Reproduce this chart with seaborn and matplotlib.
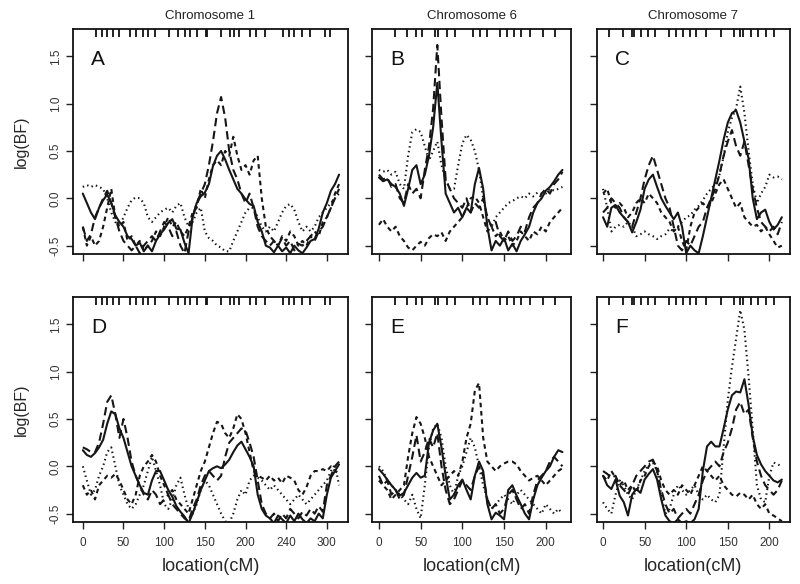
"""
Bayes factor profiles along chromosomes 1, 6 and 7 (two analyses, rows A-C / D-F).
"""
import numpy as np
import pandas as pd
import matplotlib
matplotlib.use('Agg')
import matplotlib.pyplot as plt
import seaborn as sns

sns.set_style("ticks")
plt.rcParams['font.family'] = ['Liberation Sans', 'DejaVu Sans']
plt.rcParams['axes.unicode_minus'] = False

# map positions (cM) of the evaluated grid
loc_chr1 = np.arange(0, 316, 5)
loc_chr6 = np.arange(0, 221, 5)
loc_chr7 = np.arange(0, 216, 5)

# marker positions (cM), drawn as ticks along the top edge
markers_chr1 = [16, 23, 30, 37, 45, 58, 66, 74, 80, 89, 106, 117, 126, 132, 140, 151, 153,
                170, 181, 186, 192, 206, 213, 224, 246, 253, 260, 270, 279, 298, 304]
markers_chr6 = [19, 34, 45, 52, 67, 71, 82, 91, 100, 113, 121, 129, 145, 153, 162, 170, 181, 197, 211]
markers_chr7 = [7, 24, 35, 37, 46, 54, 62, 79, 88, 96, 104, 112, 124, 142, 150, 158, 165, 168,
                178, 186, 196, 206]

xticks_chr1 = [0, 50, 100, 150, 200, 250, 300]
xlabels_chr1 = ['0', '50', '100', '150', '200', '240', '300']
xticks_chr67 = [0, 50, 100, 150, 200]
xlabels_chr67 = ['0', '50', '100', '150', '200']
yticks = [-0.5, 0.0, 0.5, 1.0, 1.5]
ylabels = ['-0.5', '0.0', '0.5', '1.0', '1.5']

# ---- panel A (chromosome 1, top) ----
a_solid = [0.05, -0.05, -0.15, -0.22, -0.1, -0.02, 0.04, -0.05, -0.18, -0.25,
           -0.3, -0.4, -0.43, -0.5, -0.47, -0.56, -0.5, -0.56, -0.45, -0.38,
           -0.33, -0.26, -0.22, -0.32, -0.33, -0.47, -0.58, -0.2, -0.05, 0.02,
           0.06, 0.15, 0.34, 0.45, 0.5, 0.41, 0.3, 0.2, 0.1, 0.05,
           -0.01, -0.06, -0.08, -0.25, -0.35, -0.5, -0.52, -0.57, -0.5, -0.56,
           -0.52, -0.58, -0.5, -0.55, -0.58, -0.52, -0.45, -0.43, -0.32, -0.15,
           -0.05, 0.08, 0.15, 0.25]
a_long = [-0.3, -0.45, -0.38, -0.2, -0.1, 0.0, 0.08, -0.05, -0.2, -0.35,
          -0.45, -0.5, -0.55, -0.5, -0.58, -0.5, -0.45, -0.4, -0.45, -0.35,
          -0.25, -0.3, -0.4, -0.35, -0.5, -0.58, -0.35, -0.2, -0.05, 0.05,
          0.15, 0.35, 0.6, 0.9, 1.07, 0.85, 0.5, 0.3, 0.2, 0.05,
          -0.05, 0.05, -0.1, -0.3, -0.4, -0.45, -0.5, -0.45, -0.5, -0.42,
          -0.5, -0.45, -0.55, -0.48, -0.5, -0.45, -0.4, -0.45, -0.35, -0.3,
          -0.2, -0.1, 0.0, 0.1]
a_short = [-0.3, -0.5, -0.4, -0.5, -0.45, -0.3, -0.1, 0.1, -0.2, -0.3,
           -0.25, -0.45, -0.4, -0.5, -0.45, -0.55, -0.5, -0.45, -0.35, -0.4,
           -0.3, -0.2, -0.3, -0.25, -0.35, -0.4, -0.3, -0.15, -0.1, 0.1,
           0.0, 0.2, 0.35, 0.4, 0.35, 0.5, 0.45, 0.65, 0.45, 0.3,
           0.35, 0.25, 0.4, 0.45, 0.0, -0.3, -0.4, -0.45, -0.5, -0.4,
           -0.45, -0.35, -0.4, -0.5, -0.45, -0.5, -0.4, -0.35, -0.4, -0.25,
           -0.2, -0.1, 0.05, 0.15]
a_dot = [0.12, 0.14, 0.12, 0.14, 0.12, 0.1, 0.0, -0.15, -0.25, -0.3,
         -0.2, -0.1, -0.02, 0.01, 0.0, -0.05, -0.2, -0.25, -0.2, -0.15,
         -0.12, -0.1, -0.15, -0.08, -0.05, -0.2, -0.3, -0.25, -0.15, -0.1,
         -0.35, -0.42, -0.45, -0.5, -0.52, -0.56, -0.56, -0.45, -0.35, -0.25,
         -0.15, -0.1, -0.1, -0.2, -0.3, -0.35, -0.3, -0.35, -0.25, -0.15,
         -0.08, -0.06, -0.12, -0.25, -0.35, -0.3, -0.35, -0.3, -0.2, -0.15,
         -0.1, -0.05, 0.0, 0.05]

# ---- panel B (chromosome 6, top) ----
b_solid = [0.22, 0.18, 0.2, 0.15, 0.12, 0.05, -0.08, 0.1, 0.3, 0.35,
           0.15, 0.25, 0.45, 0.75, 1.22, 0.6, 0.05, -0.05, -0.15, -0.1,
           -0.2, -0.1, -0.15, 0.15, 0.32, 0.1, -0.3, -0.55, -0.45, -0.5,
           -0.42, -0.55, -0.48, -0.56, -0.45, -0.38, -0.3, -0.15, -0.05, 0.0,
           0.08, 0.12, 0.18, 0.25, 0.3]
b_long = [0.25, 0.2, 0.22, 0.12, 0.15, 0.0, -0.05, 0.15, 0.05, 0.1,
          0.0, 0.3, 0.55, 0.95, 1.62, 0.85, 0.2, 0.1, 0.0, -0.05,
          -0.1, 0.0, -0.15, -0.05, -0.1, 0.0, -0.2, -0.3, -0.25, -0.4,
          -0.45, -0.35, -0.45, -0.4, -0.3, -0.35, -0.2, -0.1, -0.05, 0.05,
          0.1, 0.05, 0.15, 0.2, 0.28]
b_short = [-0.28, -0.22, -0.3, -0.35, -0.3, -0.4, -0.45, -0.52, -0.55, -0.5,
           -0.46, -0.5, -0.42, -0.38, -0.4, -0.36, -0.45, -0.35, -0.3, -0.25,
           -0.2, -0.1, 0.0, 0.02, -0.05, -0.2, -0.35, -0.3, -0.4, -0.35,
           -0.45, -0.4, -0.5, -0.45, -0.35, -0.4, -0.45, -0.35, -0.38, -0.3,
           -0.35, -0.25, -0.2, -0.15, -0.1]
b_dot = [0.3, 0.28, 0.3, 0.25, 0.28, 0.15, 0.1, 0.45, 0.7, 0.73,
         0.7, 0.55, 0.4, 0.5, 0.6, 0.35, 0.2, 0.1, 0.1, 0.35,
         0.58, 0.67, 0.62, 0.5, 0.3, 0.0, -0.2, -0.3, -0.2, -0.15,
         -0.1, -0.05, -0.03, 0.0, 0.02, 0.0, 0.05, 0.02, 0.06, 0.05,
         0.05, 0.1, 0.08, 0.1, 0.12]

# ---- panel C (chromosome 7, top) ----
c_solid = [-0.2, -0.3, -0.1, -0.07, -0.15, -0.2, -0.25, -0.36, -0.25, -0.12,
           0.1, 0.2, 0.25, 0.12, 0.0, -0.08, -0.15, -0.22, -0.15, -0.3,
           -0.58, -0.5, -0.55, -0.58, -0.4, -0.2, 0.0, 0.2, 0.4, 0.62,
           0.8, 0.9, 0.93, 0.8, 0.6, 0.42, 0.0, -0.22, -0.15, -0.12,
           -0.25, -0.33, -0.28, -0.2]
c_long = [-0.15, -0.1, 0.0, -0.05, -0.1, -0.2, -0.25, -0.3, -0.15, 0.0,
          0.2, 0.35, 0.45, 0.3, 0.15, 0.0, -0.1, -0.3, -0.5, -0.55,
          -0.45, -0.5, -0.4, -0.3, -0.25, -0.1, 0.0, 0.1, 0.25, 0.45,
          0.6, 0.72, 0.55, 0.45, 0.6, 0.35, 0.1, -0.1, -0.25, -0.3,
          -0.35, -0.3, -0.38, -0.25]
c_short = [0.05, 0.1, -0.05, -0.1, -0.05, -0.1, -0.2, -0.15, -0.05, 0.0,
           -0.05, 0.05, 0.0, -0.05, -0.15, -0.2, -0.25, -0.35, -0.3, -0.45,
           -0.55, -0.3, -0.15, -0.1, -0.05, -0.1, -0.05, 0.05, 0.15, 0.2,
           0.1, 0.0, -0.1, -0.05, -0.2, -0.25, -0.3, -0.28, -0.35, -0.3,
           -0.38, -0.45, -0.52, -0.5]
c_dot = [0.1, -0.1, -0.35, -0.3, -0.28, -0.3, -0.25, -0.3, -0.4, -0.38,
         -0.35, -0.38, -0.4, -0.43, -0.4, -0.38, -0.32, -0.35, -0.3, -0.25,
         -0.2, -0.18, -0.12, -0.08, -0.02, 0.05, 0.1, 0.15, 0.25, 0.44,
         0.7, 0.85, 0.95, 1.18, 0.9, 0.5, 0.15, -0.05, 0.05, 0.12,
         0.25, 0.22, 0.23, 0.2]

# ---- panel D (chromosome 1, bottom) ----
d_solid = [0.17, 0.12, 0.1, 0.14, 0.2, 0.28, 0.45, 0.58, 0.55, 0.4,
           0.3, 0.15, 0.0, -0.1, -0.2, -0.28, -0.3, -0.15, -0.05, -0.05,
           -0.15, -0.25, -0.32, -0.42, -0.48, -0.53, -0.6, -0.5, -0.38, -0.25,
           -0.15, -0.05, -0.02, 0.0, -0.02, 0.02, 0.07, 0.15, 0.22, 0.26,
           0.18, 0.1, 0.0, -0.3, -0.45, -0.52, -0.55, -0.6, -0.52, -0.56,
           -0.6, -0.52, -0.58, -0.5, -0.56, -0.6, -0.55, -0.58, -0.5, -0.55,
           -0.3, -0.12, -0.05, 0.02]
d_long = [0.2, 0.18, 0.15, 0.15, 0.25, 0.45, 0.68, 0.75, 0.55, 0.3,
          0.5, 0.3, 0.05, -0.1, -0.2, -0.3, -0.35, -0.25, -0.3, -0.4,
          -0.35, -0.3, -0.4, -0.45, -0.5, -0.55, -0.58, -0.45, -0.35, -0.2,
          -0.1, -0.05, -0.1, -0.15, -0.1, 0.1, 0.25, 0.3, 0.35, 0.4,
          0.38, 0.25, 0.1, -0.15, -0.4, -0.5, -0.55, -0.5, -0.58, -0.5,
          -0.55, -0.45, -0.5, -0.55, -0.48, -0.52, -0.45, -0.5, -0.42, -0.48,
          -0.2, -0.1, 0.0, 0.05]
d_short = [-0.2, -0.3, -0.25, -0.35, -0.2, -0.15, -0.1, -0.12, -0.08, -0.15,
           -0.25, -0.35, -0.4, -0.3, -0.1, 0.0, 0.05, 0.12, 0.05, -0.1,
           -0.2, -0.3, -0.25, -0.35, -0.4, -0.45, -0.5, -0.35, -0.2, -0.05,
           0.05, 0.2, 0.35, 0.47, 0.45, 0.35, 0.3, 0.4, 0.55, 0.5,
           0.35, 0.15, -0.05, -0.1, -0.12, -0.15, -0.1, -0.15, -0.12, -0.18,
           -0.1, -0.12, -0.15, -0.25, -0.3, -0.22, -0.1, -0.05, -0.05, -0.03,
           -0.05, 0.0, -0.05, -0.08]
d_dot = [0.0, -0.15, -0.3, -0.25, -0.1, 0.0, 0.15, 0.2, 0.0, -0.2,
         -0.3, -0.4, -0.45, -0.4, -0.3, -0.2, -0.05, 0.1, -0.05, -0.2,
         -0.4, -0.45, -0.35, -0.2, -0.12, -0.3, -0.45, -0.5, -0.4, -0.25,
         -0.15, -0.2, -0.3, -0.4, -0.5, -0.58, -0.6, -0.5, -0.35, -0.25,
         -0.3, -0.15, -0.1, -0.12, -0.15, -0.2, -0.25, -0.2, -0.25, -0.3,
         -0.35, -0.4, -0.35, -0.3, -0.35, -0.4, -0.35, -0.3, -0.25, -0.2,
         -0.15, -0.05, 0.02, -0.2]

# ---- panel E (chromosome 6, bottom) ----
e_solid = [-0.03, -0.08, -0.14, -0.2, -0.25, -0.31, -0.28, -0.2, -0.12, -0.07,
           -0.12, -0.1, 0.25, 0.38, 0.45, 0.2, -0.1, -0.35, -0.3, -0.2,
           -0.14, -0.25, -0.35, -0.1, 0.05, -0.05, -0.4, -0.56, -0.49, -0.52,
           -0.56, -0.25, -0.2, -0.31, -0.4, -0.5, -0.56, -0.35, -0.2, -0.12,
           -0.05, 0.0, 0.1, 0.17, 0.15]
e_long = [-0.1, -0.2, -0.15, -0.3, -0.25, -0.35, -0.3, -0.1, 0.1, 0.33,
          0.05, 0.15, 0.3, 0.2, 0.35, 0.0, -0.25, -0.4, -0.35, -0.25,
          -0.15, -0.2, -0.25, -0.1, 0.0, -0.1, -0.35, -0.45, -0.4, -0.5,
          -0.45, -0.3, -0.25, -0.35, -0.45, -0.4, -0.5, -0.3, -0.15, -0.1,
          -0.05, 0.05, 0.1, 0.05, 0.0]
e_short = [-0.15, -0.2, -0.25, -0.35, -0.3, -0.25, -0.2, 0.1, 0.35, 0.52,
           0.45, 0.3, 0.1, 0.0, -0.1, -0.2, -0.15, -0.1, -0.05, -0.1,
           0.05, 0.3, 0.45, 0.8, 0.88, 0.3, 0.05, 0.0, -0.05, 0.0,
           0.03, 0.05, 0.05, 0.02, -0.05, -0.1, -0.15, -0.12, -0.1, -0.15,
           -0.2, -0.15, -0.1, -0.05, -0.02]
e_dot = [0.0, -0.05, -0.15, -0.2, -0.25, -0.3, -0.35, -0.4, -0.3, -0.45,
         -0.55, -0.2, 0.2, 0.4, 0.45, 0.3, 0.0, -0.2, -0.3, -0.1,
         0.0, 0.15, 0.3, 0.2, 0.0, -0.2, -0.35, -0.45, -0.4, -0.35,
         -0.3, -0.35, -0.4, -0.3, -0.25, -0.3, -0.35, -0.4, -0.45, -0.5,
         -0.4, -0.45, -0.5, -0.45, -0.5]

# ---- panel F (chromosome 7, bottom) ----
f_solid = [-0.1, -0.2, -0.24, -0.14, -0.31, -0.38, -0.52, -0.3, -0.24, -0.28,
           -0.14, -0.08, -0.03, -0.14, -0.35, -0.52, -0.58, -0.6, -0.56, -0.6,
           -0.58, -0.6, -0.56, -0.45, -0.05, 0.21, 0.26, 0.21, 0.21, 0.4,
           0.6, 0.75, 0.79, 0.78, 0.92, 0.65, 0.32, 0.12, 0.02, -0.05,
           -0.1, -0.15, -0.17, -0.14]
f_long = [-0.05, -0.08, -0.12, -0.1, -0.2, -0.25, -0.3, -0.2, -0.1, -0.05,
          0.0, 0.05, 0.07, -0.05, -0.25, -0.4, -0.5, -0.45, -0.55, -0.5,
          -0.45, -0.5, -0.4, -0.3, -0.15, -0.05, 0.0, 0.05, 0.0, 0.15,
          0.25, 0.4, 0.6, 0.68, 0.55, 0.6, 0.3, 0.05, -0.1, -0.2,
          -0.25, -0.3, -0.25, -0.15]
f_short = [-0.1, -0.15, -0.05, -0.12, -0.2, -0.15, -0.25, -0.2, -0.28, -0.15,
           -0.1, 0.0, 0.05, 0.0, -0.15, -0.25, -0.3, -0.25, -0.3, -0.2,
           -0.25, -0.3, -0.2, -0.1, 0.0, -0.05, -0.1, -0.15, -0.1, -0.2,
           -0.25, -0.3, -0.32, -0.28, -0.3, -0.35, -0.3, -0.4, -0.45, -0.4,
           -0.5, -0.52, -0.55, -0.58]
f_dot = [-0.38, -0.45, -0.5, -0.3, -0.15, -0.2, -0.3, -0.35, -0.25, -0.15,
         -0.05, 0.02, 0.04, -0.05, -0.3, -0.5, -0.45, -0.3, -0.2, -0.25,
         -0.3, -0.25, -0.2, -0.3, -0.35, -0.3, -0.35, -0.38, -0.3, 0.2,
         0.7, 1.05, 1.35, 1.65, 1.44, 0.95, 0.39, -0.2, -0.35, -0.38,
         -0.1, 0.04, 0.02, 0.0]

STYLES = ['solid', 'long', 'short', 'dot']
DASHES = {'solid': '', 'long': (4.0, 2.2), 'short': (2.2, 1.8), 'dot': (0.7, 1.6)}
LINE_COLOR = '#161616'
TICK_COLOR = '#333333'


def make_frame(loc, curves):
    """Long-form table (location, logBF, curve) for one panel."""
    parts = []
    for name, vals in zip(STYLES, curves):
        parts.append(pd.DataFrame({'location': loc[:len(vals)], 'logBF': vals, 'curve': name}))
    return pd.concat(parts, ignore_index=True)


def draw_panel(ax, letter, loc, curves, markers, xlim, xticks, xlabels,
               bottom_row, left_col, title=None):
    df = make_frame(loc, curves)
    sns.lineplot(data=df, x='location', y='logBF', style='curve', style_order=STYLES,
                 dashes=DASHES, color=LINE_COLOR, linewidth=1.5, estimator=None,
                 errorbar=None, legend=False, ax=ax)

    ax.set_xlim(*xlim)
    ax.set_ylim(-0.588, 1.788)

    ax.set_xticks(xticks)
    ax.set_yticks(yticks)
    ax.set_xticklabels(xlabels if bottom_row else [])
    ax.set_yticklabels(ylabels if left_col else [], rotation=90, va='center')
    ax.tick_params(axis='both', which='major', direction='out', length=5, width=1.0,
                   color='#222222', labelcolor=TICK_COLOR, labelsize=8.5)
    ax.tick_params(axis='x', which='major', pad=6)
    ax.tick_params(axis='y', which='major', pad=3)

    # marker map along the top edge
    ax.set_xticks(markers, minor=True)
    ax.tick_params(axis='x', which='minor', bottom=False, top=True, direction='in',
                   length=5.5, width=1.3, color='#111111')

    for sp in ax.spines.values():
        sp.set_visible(True)
        sp.set_linewidth(1.3)
        sp.set_color('#111111')

    ax.set_xlabel('location(cM)' if bottom_row else '', fontsize=13, labelpad=6)
    ax.set_ylabel('log(BF)' if left_col else '', fontsize=11.5, labelpad=15)
    if title:
        ax.set_title(title, fontsize=9.5, pad=7, color='#222222')

    ax.annotate(letter, xy=(0, 1), xycoords='axes fraction', xytext=(13, -26),
                textcoords='offset points', fontsize=15, color='#111111')


fig = plt.figure(figsize=(8.0, 5.84), dpi=100)

col_rects = [(0.0913, 0.3437), (0.465, 0.249), (0.746, 0.2415)]
row_bottoms = [0.5651, 0.1062]
height = 0.3852

chroms = [
    (loc_chr1, markers_chr1, (-12, 326), xticks_chr1, xlabels_chr1, 'Chromosome 1'),
    (loc_chr6, markers_chr6, (-8.3, 230.5), xticks_chr67, xlabels_chr67, 'Chromosome 6'),
    (loc_chr7, markers_chr7, (-7.5, 224.8), xticks_chr67, xlabels_chr67, 'Chromosome 7'),
]
panel_curves = [
    [('A', [a_solid, a_long, a_short, a_dot]), ('D', [d_solid, d_long, d_short, d_dot])],
    [('B', [b_solid, b_long, b_short, b_dot]), ('E', [e_solid, e_long, e_short, e_dot])],
    [('C', [c_solid, c_long, c_short, c_dot]), ('F', [f_solid, f_long, f_short, f_dot])],
]

for ci, (loc, markers, xlim, xt, xl, title) in enumerate(chroms):
    left, width = col_rects[ci]
    for ri in range(2):
        letter, curves = panel_curves[ci][ri]
        ax = fig.add_axes([left, row_bottoms[ri], width, height])
        draw_panel(ax, letter, loc, curves, markers, xlim, xt, xl,
                   bottom_row=(ri == 1), left_col=(ci == 0),
                   title=title if ri == 0 else None)

fig.savefig('out.png', dpi=100)
